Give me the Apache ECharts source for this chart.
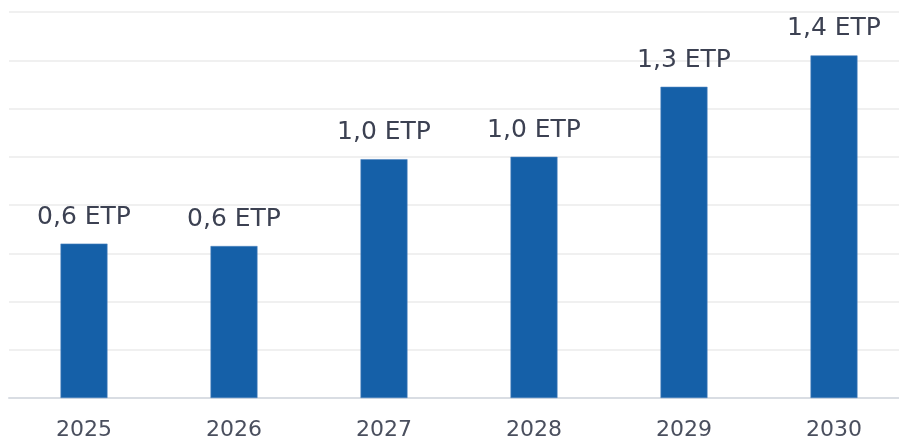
<!DOCTYPE html>
<html>
<head>
<meta charset="utf-8">
<style>
  html, body { margin: 0; padding: 0; background: #ffffff; overflow: hidden; }
  /* the plot area runs a little past the right edge of the window */
  #chart { width: 910px; height: 441px; }
</style>
<script src="https://cdn.jsdelivr.net/npm/echarts@6/dist/echarts.min.js"></script>
</head>
<body>
<div id="chart"></div>
<script>
// Years on the category axis
const years = ['2025', '2026', '2027', '2028', '2029', '2030'];
// Full-time equivalents (ETP) per year
const etp = [0.64, 0.63, 0.99, 1.0, 1.29, 1.42];
// Value axis range
const yMin = 0;
const yMax = 1.6;
const yStep = 0.2;

const chart = echarts.init(document.getElementById('chart'), null, { renderer: 'canvas' });

chart.setOption({
  animation: false,
  grid: { left: 9, right: 1, top: 12, bottom: 43, containLabel: false },
  xAxis: {
    type: 'category',
    data: years,
    axisTick: { show: false },
    axisLine: { show: true, lineStyle: { color: '#d9dde3', width: 2 } },
    axisLabel: {
      color: '#4a4f5e',
      fontFamily: 'DejaVu Sans',
      fontSize: 22,
      margin: 21
    }
  },
  yAxis: {
    type: 'value',
    min: yMin,
    max: yMax,
    interval: yStep,
    axisLabel: { show: false },
    axisLine: { show: false },
    axisTick: { show: false },
    splitLine: { show: true, lineStyle: { color: '#f0f0f0', width: 2 } }
  },
  series: [{
    type: 'bar',
    data: etp,
    barWidth: 47,
    itemStyle: { color: '#1560a8', borderColor: '#4f84bf', borderWidth: 0.6 },
    label: {
      show: true,
      position: 'top',
      distance: 14,
      color: '#3c4152',
      fontFamily: 'DejaVu Sans',
      fontSize: 25,
      formatter: p => p.value.toFixed(1).replace('.', ',') + ' ETP'
    }
  }]
});
</script>
</body>
</html>
